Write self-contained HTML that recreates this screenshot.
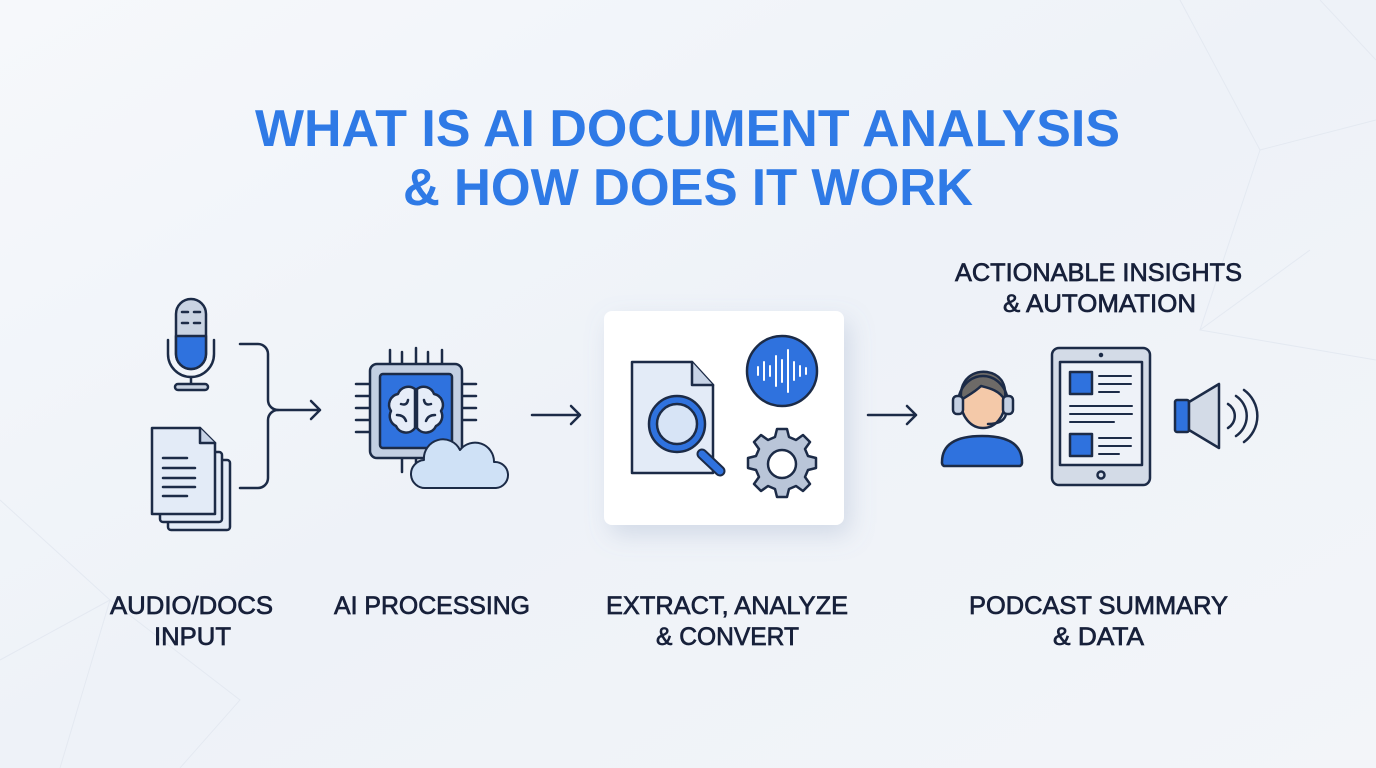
<!DOCTYPE html>
<html><head><meta charset="utf-8"><style>
html,body{margin:0;padding:0;width:1376px;height:768px;overflow:hidden;background:#f1f4f9}
svg{display:block}
text{font-family:"Liberation Sans",sans-serif}
</style></head><body>
<svg width="1376" height="768" viewBox="0 0 1376 768" xmlns="http://www.w3.org/2000/svg">
<defs>
<linearGradient id="bg" x1="0" y1="0" x2="1" y2="1">
<stop offset="0" stop-color="#f6f8fb"/><stop offset="0.5" stop-color="#eef2f8"/><stop offset="1" stop-color="#f3f5f9"/>
</linearGradient>
<filter id="sh" x="-30%" y="-30%" width="160%" height="160%"><feDropShadow dx="6" dy="10" stdDeviation="12" flood-color="#7d8fb3" flood-opacity="0.25"/></filter>
</defs>
<rect width="1376" height="768" fill="url(#bg)"/>
<g stroke="#e4e9f1" stroke-width="1" fill="none">
<path d="M1180 0 L1260 150 L1376 120 M1260 150 L1200 330 L1376 360 M1200 330 L1310 250 M1320 0 L1376 60"/>
<path d="M0 500 L110 600 L60 768 M110 600 L240 700 L180 768 M0 660 L110 600"/>
</g>
<g font-weight="bold" fill="#2f7ae6" font-size="52">
<text x="255" y="146" textLength="865" lengthAdjust="spacingAndGlyphs">WHAT IS AI DOCUMENT ANALYSIS</text>
<text x="403" y="205" textLength="570" lengthAdjust="spacingAndGlyphs">&amp; HOW DOES IT WORK</text>
</g>
<g fill="#17203a" font-size="25" stroke="#17203a" stroke-width="0.7">
<text x="110" y="614" textLength="163" lengthAdjust="spacingAndGlyphs">AUDIO/DOCS</text>
<text x="154" y="645" textLength="77" lengthAdjust="spacingAndGlyphs">INPUT</text>
<text x="334" y="614" textLength="196" lengthAdjust="spacingAndGlyphs">AI PROCESSING</text>
<text x="606" y="614" textLength="242" lengthAdjust="spacingAndGlyphs">EXTRACT, ANALYZE</text>
<text x="656" y="645" textLength="143" lengthAdjust="spacingAndGlyphs">&amp; CONVERT</text>
<text x="969" y="614" textLength="259" lengthAdjust="spacingAndGlyphs">PODCAST SUMMARY</text>
<text x="1053" y="645" textLength="91" lengthAdjust="spacingAndGlyphs">&amp; DATA</text>
<text x="955" y="281" textLength="287" lengthAdjust="spacingAndGlyphs">ACTIONABLE INSIGHTS</text>
<text x="1003" y="312" textLength="193" lengthAdjust="spacingAndGlyphs">&amp; AUTOMATION</text>
</g>
<g stroke="#1c2b47" stroke-width="2.5" fill="none" stroke-linecap="round" stroke-linejoin="round">
<!-- mic -->
<rect x="176" y="299" width="30" height="70" rx="15" fill="#c9d3e2"/>
<path d="M176 336 H206 V354 a15 15 0 0 1 -30 0 Z" fill="#2f72de"/>
<path d="M182 312h6M194 312h6M182 323h6M194 323h6"/>
<path d="M168 340 v14 a23 23 0 0 0 46 0 v-14"/>
<path d="M191 377 v9"/>
<rect x="175" y="384" width="33" height="6" rx="3" fill="#c9d3e2"/>
<!-- docs -->
<rect x="168" y="460" width="62" height="70" rx="3" fill="#e3ebf7"/>
<rect x="160" y="452" width="62" height="70" rx="3" fill="#e3ebf7"/>
<path d="M152 428 H200 L215 443 V514 H152 Z" fill="#e3ebf7"/>
<path d="M200 428 V443 H215" fill="#c7d3e6"/>
<path d="M163 458h24M163 468h32M163 478h32M163 487h32M163 496h24"/>
<!-- bracket -->
<path d="M240 344 H258 a10 10 0 0 1 10 10 V400 a10 10 0 0 0 10 10 a10 10 0 0 0 -10 10 V478 a10 10 0 0 1 -10 10 H240"/>
<path d="M278 410 H320 M311 401 L320 410 L311 419"/>
<!-- chip -->
<path d="M390 350v14M402 352v12M416 348v16M428 352v12M442 350v14M356 384h14M356 396h14M356 408h14M356 420h14M356 432h14M462 384h14M462 396h14M462 408h14M462 420h14M402 458v14M416 458v12"/>
<rect x="370" y="364" width="92" height="94" rx="7" fill="#c3cfe2"/>
<rect x="380" y="374" width="72" height="74" rx="3" fill="#2f72de"/>
<path d="M415 389 a11 11 0 0 0 -17 5 a11 11 0 0 0 -7 17 a11 11 0 0 0 5 15 a11 11 0 0 0 19 2 Z M417 389 a11 11 0 0 1 17 5 a11 11 0 0 1 7 17 a11 11 0 0 1 -5 15 a11 11 0 0 1 -19 2 Z" fill="#e6edf8"/>
<path d="M401 404 q6 2 7 -4 M397 415 q7 0 9 6 M431 404 q-6 2 -7 -4 M435 415 q-7 0 -9 6"/>
<path d="M426 488 a14 14 0 0 1 -2 -28 a19 19 0 0 1 36 -10 a19 19 0 0 1 34 12 a13 13 0 0 1 2 26 Z" fill="#cfe1f6" stroke-width="2"/>
<!-- arrow 2 -->
<path d="M532 415 H580 M571 406 L580 415 L571 424"/>
</g>
<!-- card -->
<rect x="604" y="311" width="240" height="214" rx="8" fill="#ffffff" filter="url(#sh)"/>
<g stroke="#1c2b47" stroke-width="2.5" fill="none" stroke-linecap="round" stroke-linejoin="round">
<path d="M632 362 H692 L713 385 V473 H632 Z" fill="#e3ebf7"/>
<path d="M692 362 V385 H713" fill="#c7d3e6"/>
<path d="M702 454 L720 471" stroke="#1c2b47" stroke-width="11"/>
<path d="M702 454 L720 471" stroke="#2f72de" stroke-width="7"/>
<circle cx="677" cy="424" r="28" fill="#2f72de"/>
<circle cx="677" cy="424" r="20" fill="#d7e4f6"/>
<circle cx="782" cy="371" r="35" fill="#2f72de"/>
<path d="M758 367v8M764 362v18M770 366v10M776 356v30M782 360v22M788 350v42M794 362v18M800 366v10M806 368v6" stroke="#ffffff" stroke-width="2"/>
<path d="M777 429 h10 l2 8 7 3 7 -5 7 7 -5 7 3 7 8 2 v10 l-8 2 -3 7 5 7 -7 7 -7 -5 -7 3 -2 8 h-10 l-2 -8 -7 -3 -7 5 -7 -7 5 -7 -3 -7 -8 -2 v-10 l8 -2 3 -7 -5 -7 7 -7 7 5 7 -3 Z" fill="#b9c5d8"/>
<circle cx="782" cy="464" r="14" fill="#fff"/>
<!-- arrow 3 -->
<path d="M868 415 H916 M907 406 L916 415 L907 424"/>
<!-- person -->
<path d="M944 466 a4 4 0 0 1 -2 -4 c0 -18 14 -26 40 -26 s40 8 40 26 a4 4 0 0 1 -2 4 Z" fill="#2f72de"/>
<ellipse cx="983" cy="402" rx="22" ry="26" fill="#f4c9a9"/>
<path d="M961 400 c-2 -22 14 -30 26 -28 c12 2 20 10 18 28 c-6 -10 -16 -12 -24 -14 c-6 6 -14 10 -20 14 Z" fill="#6d6a67"/>
<path d="M958 404 a25 28 0 0 1 50 0"/>
<rect x="953" y="396" width="10" height="18" rx="4" fill="#c3cfe2"/>
<rect x="1003" y="396" width="10" height="18" rx="4" fill="#c3cfe2"/>
<path d="M1006 414 q-2 10 -18 10"/>
<!-- tablet -->
<rect x="1052" y="348" width="98" height="137" rx="7" fill="#d3dbe7"/>
<rect x="1060" y="362" width="82" height="103" fill="#eef2f8"/>
<circle cx="1101" cy="355" r="1" fill="#1c2b47"/>
<circle cx="1101" cy="475" r="3.5"/>
<rect x="1070" y="372" width="22" height="22" fill="#2f72de"/>
<rect x="1070" y="434" width="22" height="22" fill="#2f72de"/>
<path d="M1099 376h32M1099 384h32M1099 392h20M1070 406h62M1070 414h62M1070 422h44M1099 438h32M1099 446h32M1099 454h20" stroke-width="2"/>
<!-- speaker -->
<rect x="1175" y="400" width="14" height="32" rx="2" fill="#2f72de"/>
<path d="M1189 402 L1219 384 V448 L1189 430 Z" fill="#d3dbe7"/>
<path d="M1228 404 a14 14 0 0 1 0 24 M1236 396 a24 24 0 0 1 0 40 M1244 390 a32 32 0 0 1 0 52"/>
</g>
</svg>
</body></html>
